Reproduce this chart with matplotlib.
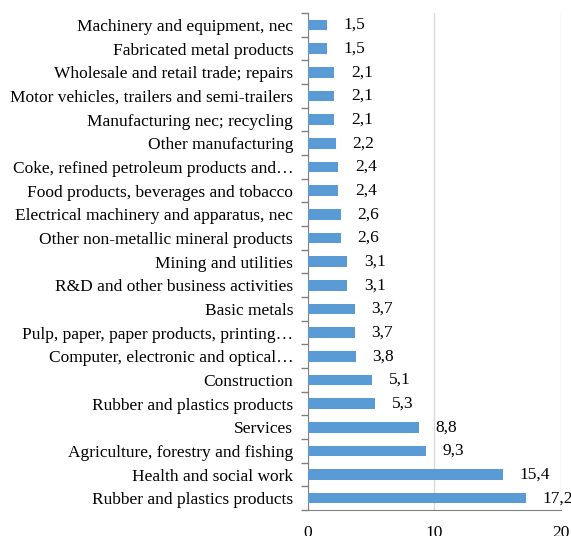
import matplotlib.pyplot as plt
import numpy as np

plt.rcParams['font.family'] = ['Liberation Serif', 'DejaVu Serif']

categories = ['Machinery and equipment, nec', 'Fabricated metal products',
              'Wholesale and retail trade; repairs', 'Motor vehicles, trailers and semi-trailers',
              'Manufacturing nec; recycling', 'Other manufacturing',
              'Coke, refined petroleum products and…', 'Food products, beverages and tobacco',
              'Electrical machinery and apparatus, nec', 'Other non-metallic mineral products',
              'Mining and utilities', 'R&D and other business activities', 'Basic metals',
              'Pulp, paper, paper products, printing…', 'Computer, electronic and optical…',
              'Construction', 'Rubber and plastics products', 'Services',
              'Agriculture, forestry and fishing', 'Health and social work',
              'Rubber and plastics products']
values = [1.5, 1.5, 2.1, 2.1, 2.1, 2.2, 2.4, 2.4, 2.6, 2.6, 3.1, 3.1, 3.7, 3.7, 3.8,
          5.1, 5.3, 8.8, 9.3, 15.4, 17.2]

fig = plt.figure(figsize=(5.71, 5.36), dpi=100)
ax = fig.add_axes([0.539, 0.0485, 0.4435, 0.927])

y = np.arange(len(categories))
ax.barh(y, values, height=0.45, color='#5B9BD5', zorder=3)
for yi, v in zip(y, values):
    ax.annotate(('%.1f' % v).replace('.', ','), (v, yi), xytext=(12, 0),
                textcoords='offset points', va='center', ha='left', fontsize=12.5)

ax.set_xlim(0, 20)
ax.set_ylim(len(categories) - 0.5, -0.5)
ax.set_xticks([0, 10, 20])
ax.tick_params(axis='x', length=0, labelsize=12.5, pad=11)
ax.set_yticks(y)
ax.set_yticklabels(categories, fontsize=12.5)
ax.set_yticks(np.arange(len(categories) + 1) - 0.5, minor=True)
ax.tick_params(axis='y', which='major', length=0, pad=10.5)
ax.tick_params(axis='y', which='minor', length=5, color='#808080', width=1)
ax.xaxis.grid(True, color='#D9D9D9', linewidth=1, zorder=0)
for s in ['top', 'right']:
    ax.spines[s].set_visible(False)
ax.spines['bottom'].set_color('#808080')
ax.spines['left'].set_color('#808080')

fig.savefig('out.png', dpi=100)
